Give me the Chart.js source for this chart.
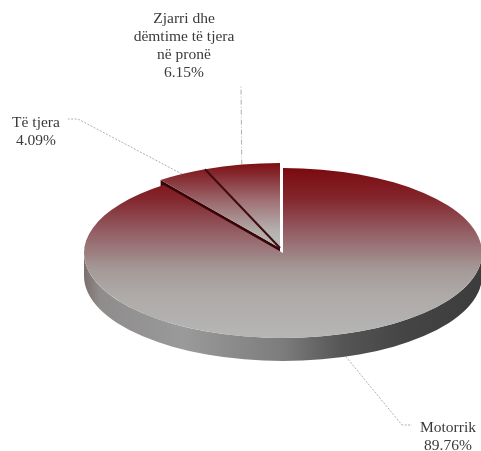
<!DOCTYPE html>
<html><head><meta charset="utf-8">
<style>html,body{margin:0;padding:0;background:#fff}canvas{display:block}</style>
<script src="https://cdn.jsdelivr.net/npm/chart.js@4"></script>
</head><body><canvas id="c" width="481" height="451"></canvas>
<script>
const categories = ['Motorrik', 'Të tjera', 'Zjarri dhe dëmtime të tjera në pronë'];
const shares = [89.76, 4.09, 6.15];
const labelLines = [['Motorrik'], ['Të tjera'], ['Zjarri dhe', 'dëmtime të tjera', 'në pronë']];

const tilt = 0.427, depth = 23, shiftX = -3, shiftY = -5;
const labelPos = [{x:448,y:428},{x:36,y:123},{x:184,y:19}];
const elbows = [[{x:402,y:425},{x:412,y:425}],[{x:78,y:119},{x:68,y:119}],[{x:241,y:85}]];

const cv = document.getElementById('c'), c0 = cv.getContext('2d');
const CX = 283, CY = 253;
const yIn = y => CY + (y - CY) / tilt;
function grad(y0, y1, stops) {
  const g = c0.createLinearGradient(0, yIn(y0), 0, yIn(y1));
  stops.forEach(s => g.addColorStop(s[0], s[1]));
  return g;
}
const fills = [
  grad(168, 338, [[0,'#7a0a0f'],[0.18,'#83262c'],[0.36,'#925a60'],[0.6,'#a59a98'],[0.75,'#aeaaa8'],[1,'#b6b6b6']]),
  grad(163, 250, [[0,'#7d0d10'],[0.2,'#88343a'],[0.45,'#9c6a6e'],[0.77,'#b0a8a6'],[1,'#b8bcb8']]),
  grad(163, 250, [[0,'#7d0d10'],[0.2,'#8a3a40'],[0.43,'#a07074'],[0.77,'#b4b0ae'],[1,'#b8c4c0']])
];

function rim(a, pt) {
  return {x: a.x + a.outerRadius * Math.cos(pt), y: CY + (a.y - CY) * tilt + a.outerRadius * tilt * Math.sin(pt)};
}
function hub(a) { return {x: a.x, y: CY + (a.y - CY) * tilt}; }

const pie3d = {
  id: 'pie3d',
  beforeDatasetsDraw(chart) {
    const ctx = chart.ctx, arcs = chart.getDatasetMeta(0).data;
    const m = arcs[0], r = m.outerRadius;
    for (let i = 1; i < arcs.length; i++) { arcs[i].x = m.x + shiftX; arcs[i].y = m.y + shiftY / tilt; }
    // rim of the disc
    const side = ctx.createLinearGradient(m.x - r, 0, m.x + r, 0);
    [[0,'#7d6e6e'],[0.04,'#8f8c8c'],[0.25,'#9a9a9a'],[0.5,'#7c7c7c'],[0.65,'#555555'],[0.8,'#454545'],[1,'#3c3c3c']]
      .forEach(s => side.addColorStop(s[0], s[1]));
    ctx.save();
    ctx.fillStyle = side;
    ctx.beginPath();
    ctx.ellipse(m.x, CY, r, r * tilt, 0, 0, Math.PI);
    ctx.ellipse(m.x, CY + depth, r, r * tilt, 0, Math.PI, 0, true);
    ctx.closePath(); ctx.fill();
    // exposed wall of the pulled-out slices
    const a = arcs[1], h = hub(a), p = rim(a, a.startAngle);
    ctx.fillStyle = '#3a0508';
    ctx.beginPath();
    ctx.moveTo(h.x, h.y); ctx.lineTo(p.x, p.y); ctx.lineTo(p.x, p.y + depth); ctx.lineTo(h.x, h.y + depth);
    ctx.closePath(); ctx.fill();
    ctx.restore();
    ctx.save();
    ctx.translate(0, CY); ctx.scale(1, tilt); ctx.translate(0, -CY);
  },
  afterDatasetsDraw(chart) {
    const ctx = chart.ctx, arcs = chart.getDatasetMeta(0).data;
    ctx.restore();
    // seam between the two pulled-out slices
    const a = arcs[2], h = hub(a), p = rim(a, a.startAngle);
    ctx.save();
    ctx.strokeStyle = '#3f0a10'; ctx.lineWidth = 2;
    ctx.beginPath(); ctx.moveTo(h.x, h.y); ctx.lineTo(p.x, p.y); ctx.stroke();
    // leader lines and labels
    ctx.lineWidth = 0.8; ctx.strokeStyle = '#9a9a9a';
    arcs.forEach((arc, i) => {
      const mid = (arc.startAngle + arc.endAngle) / 2;
      const s = rim(arc, mid);
      const y0 = i === 0 ? s.y + depth : s.y;
      ctx.setLineDash(i === 2 ? [5, 2, 1, 2] : [2, 1.5]);
      ctx.beginPath(); ctx.moveTo(s.x, y0);
      elbows[i].forEach(e => ctx.lineTo(e.x, e.y));
      ctx.stroke();
    });
    ctx.setLineDash([]);
    ctx.fillStyle = '#3a3a3a';
    ctx.font = '15.5px "Liberation Serif"';
    ctx.textAlign = 'center'; ctx.textBaseline = 'middle';
    arcs.forEach((arc, i) => {
      const lines = labelLines[i].concat(shares[i].toFixed(2) + '%');
      lines.forEach((t, k) => ctx.fillText(t, labelPos[i].x, labelPos[i].y + k * 18));
    });
    ctx.restore();
  }
};

new Chart(cv, {
  type: 'pie',
  data: { labels: categories, datasets: [{ data: shares, backgroundColor: fills, borderWidth: 0, clip: false }] },
  options: {
    responsive: false, animation: false, radius: 199, rotation: 0,
    layout: { padding: { left: 85, top: 55 } },
    plugins: { legend: { display: false }, tooltip: { enabled: false } }
  },
  plugins: [pie3d]
});
</script></body></html>
